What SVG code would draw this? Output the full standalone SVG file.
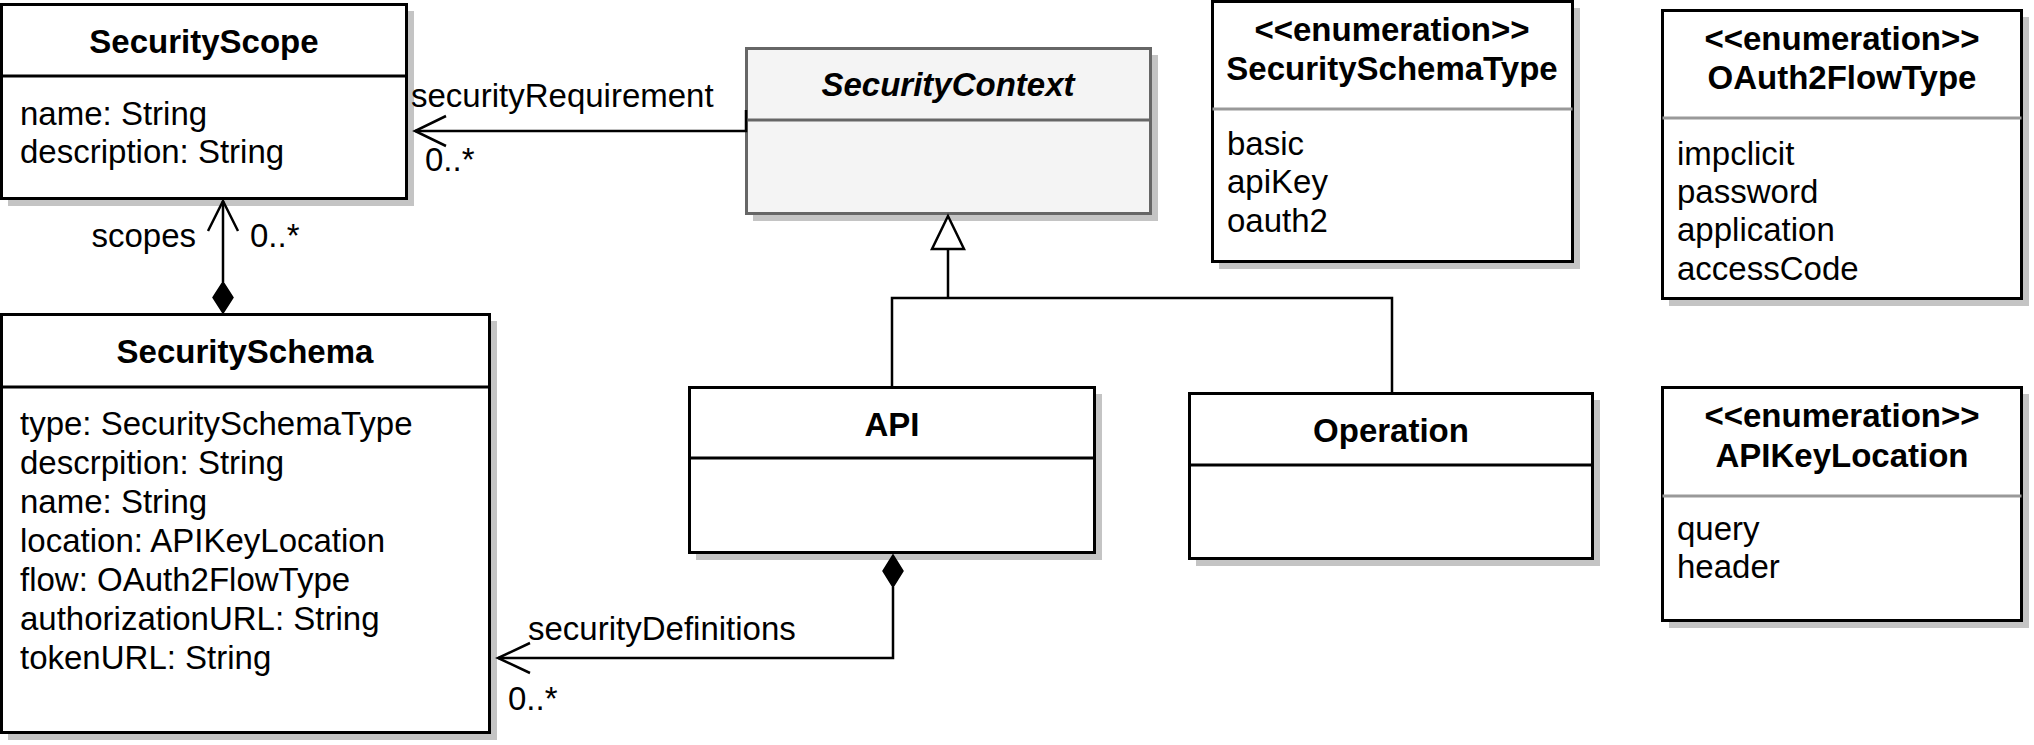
<svg xmlns="http://www.w3.org/2000/svg" width="2034" height="745" viewBox="0 0 2034 745">
<style>
text{font-family:"Liberation Sans",Arial,Helvetica,sans-serif;font-size:33px;fill:#000}
.t{font-weight:bold;text-anchor:middle}
.ti{font-weight:bold;font-style:italic;text-anchor:middle}
.sh{fill:#c4c4c4;stroke:none}
.box{fill:#fff;stroke:#000;stroke-width:3}
.abox{fill:#f4f4f4;stroke:#666;stroke-width:3}
.div{stroke:#000;stroke-width:3}
.adiv{stroke:#666;stroke-width:3}
.ediv{stroke:#999;stroke-width:3}
.ln{fill:none;stroke:#000;stroke-width:2.5}
.dia{fill:#000;stroke:#000;stroke-width:1.5}
.tri{fill:#fff;stroke:#000;stroke-width:2.5}
</style>
<rect width="2034" height="745" fill="#fff"/>

<g id="SecurityScope">
<rect class="sh" x="8" y="11" width="406" height="195"/>
<rect class="box" x="1.5" y="4.5" width="405" height="194"/>
<line class="div" x1="1.5" y1="76" x2="406.5" y2="76"/>
<text class="t" x="204" y="53">SecurityScope</text>
<text x="20" y="125">name: String</text>
<text x="20" y="163">description: String</text>
</g>

<g id="SecuritySchema">
<rect class="sh" x="8" y="321" width="489" height="419"/>
<rect class="box" x="1.5" y="314.5" width="488" height="418"/>
<line class="div" x1="1.5" y1="387" x2="489.5" y2="387"/>
<text class="t" x="245" y="363">SecuritySchema</text>
<text x="20" y="435">type: SecuritySchemaType</text>
<text x="20" y="474">descrpition: String</text>
<text x="20" y="513">name: String</text>
<text x="20" y="552">location: APIKeyLocation</text>
<text x="20" y="591">flow: OAuth2FlowType</text>
<text x="20" y="630">authorizationURL: String</text>
<text x="20" y="669">tokenURL: String</text>
</g>

<g id="SecurityContext">
<rect class="sh" x="753" y="55" width="405" height="166"/>
<rect class="abox" x="746.5" y="48.5" width="404" height="165"/>
<line class="adiv" x1="746.5" y1="120" x2="1150.5" y2="120"/>
<text class="ti" x="948" y="96">SecurityContext</text>
</g>

<g id="API">
<rect class="sh" x="696" y="394" width="406" height="166"/>
<rect class="box" x="689.5" y="387.5" width="405" height="165"/>
<line class="div" x1="689.5" y1="458" x2="1094.5" y2="458"/>
<text class="t" x="892" y="436">API</text>
</g>

<g id="Operation">
<rect class="sh" x="1196" y="400" width="404" height="166"/>
<rect class="box" x="1189.5" y="393.5" width="403" height="165"/>
<line class="div" x1="1189.5" y1="465" x2="1592.5" y2="465"/>
<text class="t" x="1391" y="442">Operation</text>
</g>

<g id="SecuritySchemaType">
<rect class="sh" x="1219" y="8" width="361" height="261"/>
<rect class="box" x="1212.5" y="1.5" width="360" height="260"/>
<line class="ediv" x1="1212.5" y1="109" x2="1572.5" y2="109"/>
<text class="t" x="1392" y="41">&lt;&lt;enumeration&gt;&gt;</text>
<text class="t" x="1392" y="80">SecuritySchemaType</text>
<text x="1227" y="155">basic</text>
<text x="1227" y="193">apiKey</text>
<text x="1227" y="232">oauth2</text>
</g>

<g id="OAuth2FlowType">
<rect class="sh" x="1669" y="17" width="360" height="289"/>
<rect class="box" x="1662.5" y="10.5" width="359" height="288"/>
<line class="ediv" x1="1662.5" y1="118" x2="2021.5" y2="118"/>
<text class="t" x="1842" y="50">&lt;&lt;enumeration&gt;&gt;</text>
<text class="t" x="1842" y="89">OAuth2FlowType</text>
<text x="1677" y="165">impclicit</text>
<text x="1677" y="203">password</text>
<text x="1677" y="241">application</text>
<text x="1677" y="280">accessCode</text>
</g>

<g id="APIKeyLocation">
<rect class="sh" x="1669" y="394" width="360" height="234"/>
<rect class="box" x="1662.5" y="387.5" width="359" height="233"/>
<line class="ediv" x1="1662.5" y1="496" x2="2021.5" y2="496"/>
<text class="t" x="1842" y="427">&lt;&lt;enumeration&gt;&gt;</text>
<text class="t" x="1842" y="467">APIKeyLocation</text>
<text x="1677" y="540">query</text>
<text x="1677" y="578">header</text>
</g>

<g id="connectors">
<path class="ln" d="M746,110 V131 H415"/>
<polyline class="ln" points="446,116 415,131 446,146"/>
<text x="411" y="107">securityRequirement</text>
<text x="425" y="171">0..*</text>

<path class="ln" d="M223,282 V201"/>
<polyline class="ln" points="208,231 223,201 238,231"/>
<polygon class="dia" points="223,282 233,297.5 223,313 213,297.5"/>
<text x="196" y="247" style="text-anchor:end">scopes</text>
<text x="250" y="247">0..*</text>

<path class="ln" d="M892,387 V298 H1392 V393"/>
<path class="ln" d="M948,298 V249"/>
<polygon class="tri" points="948,216 932,249 964,249"/>

<polygon class="dia" points="893,555 903,571 893,587 883,571"/>
<path class="ln" d="M893,587 V658 H498"/>
<polyline class="ln" points="530,643 498,658 530,673"/>
<text x="528" y="640">securityDefinitions</text>
<text x="508" y="710">0..*</text>
</g>
</svg>
